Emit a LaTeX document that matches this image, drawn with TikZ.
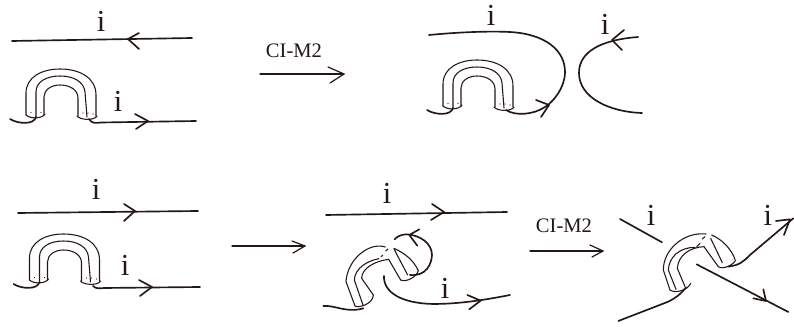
\documentclass[tikz,border=0pt]{standalone}
\usepackage{fontspec}
\setmainfont{Liberation Serif}
\definecolor{ink}{HTML}{231815}
\tikzset{
  main/.style={line width=1.25pt,draw=ink,line cap=round,line join=round},
  thin/.style={line width=0.8pt,draw=ink,line cap=round},
  arrowline/.style={line width=0.9pt,draw=ink,line cap=round,line join=round},
  dotp/.style={fill=ink,draw=none},
  lab/.style={font=\fontsize{23}{23}\selectfont,inner sep=0pt,text=ink},
  captext/.style={font=\fontsize{15.5}{16}\selectfont,inner sep=0pt,text=ink}
}
\newcommand{\dotsat}[1]{\foreach \p in {#1}{\fill[dotp] \p circle (0.6pt);}}
\newcommand{\uband}[2]{%
 \begin{scope}[shift={(#1,#2)}]
  \draw[thin] (26,115) -- (26,93) .. controls (26,77) and (42,69) .. (60,69) .. controls (80,69) and (96,78) .. (96,95) -- (96,116);
  \draw[thin] (36,117) -- (36,92) .. controls (36,82) and (46,76) .. (60,76) .. controls (74,76) and (84,82) .. (85,92) -- (87,117);
  \draw[thin] (44,115) -- (44,97) .. controls (44,90) and (51,85) .. (60,85) .. controls (70,85) and (78,90) .. (78,98) -- (78,116);
  \draw[thin] (26,115) .. controls (30,119) and (42,119) .. (45,114);
  \draw[thin] (77,116) .. controls (80,120) and (94,121) .. (97,116);
  \dotsat{(31,112.5),(41,112.5),(83,113),(88,113),(93,114)}
  \draw[main] (10,119) .. controls (18,124) and (34,125) .. (36,117);
  \end{scope}}
\begin{document}
\begin{tikzpicture}[x=1pt,y=-1pt,scale=0.75292]
\useasboundingbox[fill=white] (0,0) rectangle (794,327);
% top-left
\coordinate (a1) at (12,41); \coordinate (a2) at (192,38);
\draw[main] (a1) -- (a2);
\draw[main] (139,33) -- (128,39) -- (139,49);
\node[lab] (l1) at (101,21) {i};
\uband{0}{0}
\coordinate (b1) at (89,119); \coordinate (b2) at (196,121);
\draw[main] (b1) .. controls (92,124) and (96,123) .. (101,122.5) -- (b2);
\draw[main] (135,114) -- (148,121) -- (136,129);
\node[lab] (l2) at (118,101) {i};
% arrow 1
\coordinate (c1) at (260,74); \coordinate (c2) at (344,74);
\draw[arrowline] (c1) -- (c2);
\draw[arrowline] (328,67) -- (344,74) -- (330,83);
\node[captext] (t1) at (294,51) {CI-M2};
% top-right
\node[lab] (l3) at (491,15) {i};
\node[lab] (l4) at (605,24) {i};
\uband{417}{-9}
\draw[main] (429,35) .. controls (460,32) and (490,31) .. (510,32) .. controls (545,34) and (565,50) .. (565,72) .. controls (565,88) and (553,102) .. (545,107) .. controls (533,115) and (515,116) .. (506,110);
\draw[main] (536,100) -- (549,105) -- (541,117);
\draw[main] (638,37) .. controls (600,40) and (579,52) .. (579,73) .. controls (579,98) and (610,112) .. (642,113);
\draw[main] (624,30) -- (612,40) -- (622,50);
% bottom-left
\draw[main] (18,213) -- (198,211);
\draw[main] (124,204) -- (135,211) -- (124,221);
\node[lab] (l5) at (96,189) {i};
\uband{3.5}{165}
\draw[main] (93,286) .. controls (96,289) and (100,288.5) .. (104,288) -- (200,287);
\draw[main] (139,280) -- (152,287) -- (140,296);
\node[lab] (l6) at (125,265) {i};
% arrow 2
\draw[arrowline] (232,246) -- (305,246);
\draw[arrowline] (292,241) -- (305,246) -- (293,253);
% bottom-middle
\draw[main] (326,215) -- (507,212);
\draw[main] (432,204) -- (444,212) -- (431,220);
\node[lab] (l7) at (387,193) {i};
\begin{scope}[shift={(310,180)},scale=0.3333]
 \draw[thin] (135,378) -- (108,305) .. controls (112,240) and (175,185) .. (226,201);
 \draw[thin] (252,205) .. controls (285,220) and (310,240) .. (325,272);
 \draw[thin] (160,378) -- (133,300) .. controls (135,265) and (170,243) .. (207,236);
 \draw[thin] (213,230) -- (218,226);
 \draw[thin] (227,213) -- (234,207);
 \draw[thin] (252,207) -- (293,285);
 \draw[thin] (190,345) -- (155,295) .. controls (155,265) and (195,243) .. (236,238) -- (272,300);
 \draw[thin] (135,378) .. controls (145,385) and (190,372) .. (190,345);
 \draw[thin] (272,300) .. controls (290,308) and (320,290) .. (325,272);
 \dotsat{(150,360),(162,360),(176,350),(283,287),(299,281),(315,273)}
 \draw[main] (40,378) .. controls (75,375) and (110,400) .. (160,385);
 \draw[main] (300,285) .. controls (350,290) and (365,250) .. (366,225) .. controls (366,190) and (330,165) .. (290,163) .. controls (275,163) and (260,170) .. (254,178);
 \draw[main] (328,148) -- (298,165) -- (322,197);
 \draw[main] (222,288) .. controls (220,335) and (270,370) .. (370,372) .. controls (430,372) and (500,365) .. (600,345);
 \draw[main] (472,345) -- (512,362) -- (478,388);
\end{scope}
\node[lab] (l8) at (445,288) {i};
% arrow 3
\draw[arrowline] (530,251) -- (603,251);
\draw[arrowline] (590,245) -- (603,251) -- (592,257);
\node[captext] (t2) at (564,226) {CI-M2};
% bottom-right
\begin{scope}[shift={(600,190)},scale=0.3333]
 \draw[thin] (210,300) -- (190,240) .. controls (190,180) and (250,125) .. (318,132);
 \draw[thin] (335,135) .. controls (370,150) and (395,180) .. (405,208);
 \draw[thin] (228,298) -- (205,240) .. controls (207,200) and (240,172) .. (285,172);
 \draw[thin] (290,170) -- (300,160);
 \draw[thin] (307,147) -- (315,140);
 \draw[thin] (332,145) -- (367,218);
 \draw[thin] (255,290) -- (232,235) .. controls (235,195) and (270,172) .. (312,170) -- (355,230);
 \draw[thin] (210,300) .. controls (225,312) and (265,300) .. (272,280);
 \draw[thin] (355,230) .. controls (370,240) and (400,225) .. (407,210);
 \dotsat{(230,296),(245,292),(259,284),(364,218),(381,212),(397,208)}
 \draw[main] (60,87) -- (186,157);
 \node[lab] (l9) at (153,77) {i};
 \node[lab] (l10) at (504,75) {i};
 \draw[main] (55,393) -- (205,335) .. controls (225,325) and (240,315) .. (258,292);
 \draw[main] (290,223) -- (565,366);
 \draw[main] (460,325) -- (498,333) -- (490,298);
 \draw[main] (385,230) .. controls (420,225) and (430,215) .. (450,195) -- (580,85);
 \draw[main] (528,93) -- (570,88) -- (552,135);
\end{scope}
\end{tikzpicture}
\end{document}
